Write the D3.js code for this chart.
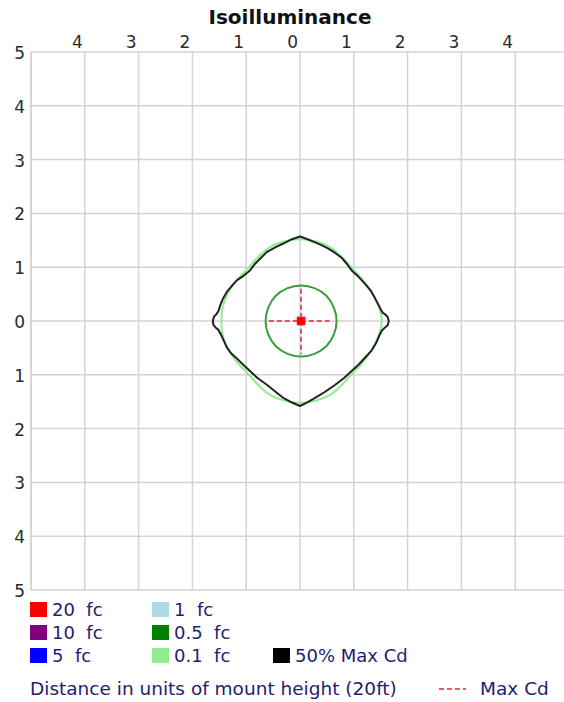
<!DOCTYPE html>
<html>
<head>
<meta charset="utf-8">
<script src="https://cdn.jsdelivr.net/npm/d3@7"></script>
<style>
  body { margin: 0; background: #fff; }
  svg { display: block; }
  .tick_label { font-family: "DejaVu Sans", sans-serif; font-size: 17px; fill: #2a2a2a; }
  .legend_text { font-family: "DejaVu Sans", sans-serif; font-size: 18px; fill: #1e1e6e; white-space: pre; }
</style>
</head>
<body>
<svg id="chart" width="564" height="702"></svg>
<script>
(function(){
	// axis ticks (shown as absolute distance)
	var xTicks = [-4, -3, -2, -1, 0, 1, 2, 3, 4];
	var yTicks = [5, 4, 3, 2, 1, 0, -1, -2, -3, -4, -5];

	// 50% max candela outline, units of mount height
	var maxCd50 = [
		[0, 1.57], [0.14, 1.52], [0.28, 1.46], [0.40, 1.41], [0.52, 1.35], [0.66, 1.26], [0.78, 1.17],
		[0.88, 1.05], [0.96, 0.94], [1.08, 0.83], [1.20, 0.70], [1.31, 0.57], [1.39, 0.43], [1.46, 0.30],
		[1.50, 0.22], [1.54, 0.15], [1.59, 0.12], [1.63, 0.07], [1.65, 0.0], [1.63, -0.08], [1.57, -0.13],
		[1.52, -0.18], [1.47, -0.28], [1.42, -0.40], [1.33, -0.55], [1.22, -0.67], [1.10, -0.80],
		[0.96, -0.93], [0.82, -1.06], [0.65, -1.19], [0.46, -1.32], [0.28, -1.43], [0.12, -1.52], [0, -1.58],
		[-0.14, -1.52], [-0.31, -1.43], [-0.46, -1.31], [-0.61, -1.19], [-0.79, -1.06], [-0.93, -0.93],
		[-1.06, -0.81], [-1.17, -0.70], [-1.28, -0.60], [-1.36, -0.49], [-1.42, -0.36], [-1.47, -0.25],
		[-1.52, -0.16], [-1.57, -0.12], [-1.61, -0.07], [-1.62, 0.0], [-1.60, 0.08], [-1.55, 0.13],
		[-1.51, 0.20], [-1.48, 0.30], [-1.43, 0.42], [-1.36, 0.54], [-1.27, 0.65], [-1.17, 0.76],
		[-1.05, 0.84], [-0.93, 0.94], [-0.83, 1.07], [-0.72, 1.18], [-0.62, 1.28], [-0.46, 1.37], [-0.31, 1.44],
		[-0.15, 1.52]
	];

	// isoilluminance contours
	var fc01 = [
		[0, 1.52], [0.55, 1.38], [0.95, 1.00], [1.28, 0.62], [1.47, 0.25], [1.52, 0], [1.47, -0.25],
		[1.28, -0.62], [0.95, -1.00], [0.55, -1.38], [0, -1.52], [-0.55, -1.38], [-0.95, -1.00],
		[-1.28, -0.62], [-1.44, -0.25], [-1.46, 0], [-1.44, 0.25], [-1.28, 0.62], [-0.95, 1.00], [-0.55, 1.38]
	];
	var fc05 = [
		[0.02, 0.66], [0.27, 0.61], [0.49, 0.47], [0.63, 0.25], [0.68, 0.0], [0.63, -0.25], [0.49, -0.47],
		[0.27, -0.61], [0.02, -0.66], [-0.23, -0.61], [-0.45, -0.47], [-0.59, -0.25], [-0.64, 0.0],
		[-0.59, 0.25], [-0.45, 0.47], [-0.23, 0.61]
	];
	var fc1 = [[0.02, 0.12], [0.12, 0.02], [0.02, -0.10], [-0.08, 0.02]];
	var fc20 = [[-0.05, 0.07], [0.09, 0.07], [0.09, -0.07], [-0.05, -0.07]];

	// max candela cross
	var maxCdH = [[-0.58, 0], [0.55, 0]];
	var maxCdV = [[0.02, 0.60], [0.02, -0.62]];

	// legend
	var legendLabels = ["20  fc", "10  fc", "5  fc", "1  fc", "0.5  fc", "0.1  fc", "50% Max Cd"];
	var legendColors = ["#ff0000", "#800080", "#0000ff", "#add8e6", "#008000", "#90ee90", "#000000"];

	var svg = d3.select("#chart");
	var plot = {left: 31, right: 569, top: 52, bottom: 590};

	var x = d3.scaleLinear().domain([-5, 5]).range([plot.left, plot.right]);
	var y = d3.scaleLinear().domain([5, -5]).range([plot.top, plot.bottom]);

	svg.append("text")
		.attr("x", 290)
		.attr("y", 24)
		.attr("text-anchor", "middle")
		.style("font-family", "'DejaVu Sans', sans-serif")
		.style("font-weight", "bold")
		.style("font-size", "20px")
		.style("fill", "#111")
		.text("Isoilluminance");

	// grid
	var grid = svg.append("g");
	grid.selectAll("line.v").data(xTicks).enter().append("line")
		.attr("x1", d => x(d)).attr("x2", d => x(d))
		.attr("y1", plot.top).attr("y2", plot.bottom)
		.style("stroke", "#d3d3d3").style("stroke-width", 1.5);
	grid.selectAll("line.h").data(yTicks).enter().append("line")
		.attr("x1", plot.left).attr("x2", plot.right)
		.attr("y1", d => y(d)).attr("y2", d => y(d))
		.style("stroke", "#d3d3d3").style("stroke-width", 1.5);
	grid.append("line")
		.attr("x1", plot.left).attr("x2", plot.left)
		.attr("y1", plot.top).attr("y2", plot.bottom)
		.style("stroke", "#c8c8c8").style("stroke-width", 1.5);

	svg.selectAll("text.xt").data(xTicks).enter().append("text")
		.attr("class", "tick_label")
		.attr("x", d => x(d) - 2)
		.attr("y", plot.top - 4)
		.attr("text-anchor", "end")
		.text(d => Math.abs(d));
	svg.selectAll("text.yt").data(yTicks).enter().append("text")
		.attr("class", "tick_label")
		.attr("x", 25)
		.attr("y", d => y(d) + 7)
		.attr("text-anchor", "end")
		.text(d => Math.abs(d));

	var line = d3.line().x(d => x(d[0])).y(d => y(d[1]));
	var smooth = d3.line().x(d => x(d[0])).y(d => y(d[1])).curve(d3.curveCatmullRomClosed);

	svg.append("path").attr("d", smooth(fc01))
		.style("fill", "none").style("stroke", "#90ee90").style("stroke-width", 2);
	svg.append("path").attr("d", line.curve(d3.curveLinearClosed)(maxCd50))
		.style("fill", "none").style("stroke", "#222").style("stroke-width", 2)
		.style("stroke-linejoin", "round");
	svg.append("path").attr("d", smooth(fc05))
		.style("fill", "none").style("stroke", "#3c9c3c").style("stroke-width", 2);
	svg.append("path").attr("d", smooth(fc1))
		.style("fill", "none").style("stroke", "#cfe8f2").style("stroke-width", 2);

	[maxCdH, maxCdV].forEach(function(seg) {
		svg.append("path").attr("d", d3.line().x(d => x(d[0])).y(d => y(d[1]))(seg))
			.style("stroke", "#e0283c").style("stroke-width", 1.5)
			.style("stroke-dasharray", "5,3").style("fill", "none");
	});
	svg.append("path").attr("d", line.curve(d3.curveLinearClosed)(fc20))
		.style("fill", "#ff0000").style("stroke", "#ff0000").style("stroke-width", 1);

	// legend
	var legendPos = [[30, 602], [30, 625], [30, 648], [152, 602], [152, 625], [152, 648], [273, 648]];
	var legend = svg.append("g");
	legendLabels.forEach(function(label, i) {
		var p = legendPos[i];
		legend.append("rect")
			.attr("x", p[0]).attr("y", p[1])
			.attr("width", 17).attr("height", 15)
			.style("fill", legendColors[i]);
		legend.append("text")
			.attr("class", "legend_text")
			.attr("x", p[0] + 22).attr("y", p[1] + 14)
			.text(label);
	});

	legend.append("text")
		.attr("class", "legend_text")
		.attr("x", 30).attr("y", 695)
		.style("font-size", "18.5px")
		.text("Distance in units of mount height (20ft)");
	legend.append("line")
		.attr("x1", 439).attr("x2", 466).attr("y1", 689).attr("y2", 689)
		.style("stroke", "#e0283c").style("stroke-width", 1.5).style("stroke-dasharray", "5,3");
	legend.append("text")
		.attr("class", "legend_text")
		.attr("x", 480).attr("y", 695)
		.style("font-size", "18.5px")
		.text("Max Cd");
})();
</script>
</body>
</html>
